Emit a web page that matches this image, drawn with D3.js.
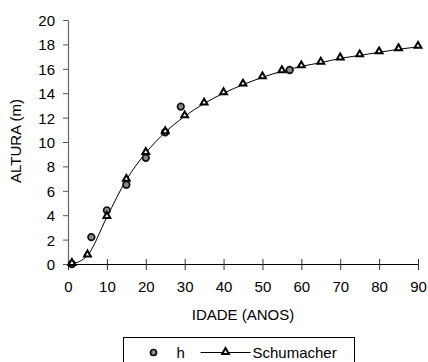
<!DOCTYPE html>
<html>
<head>
<meta charset="utf-8">
<script src="https://cdn.jsdelivr.net/npm/d3@7"></script>
<style>
  body { margin: 0; background: #fff; }
  svg text { font-family: "Liberation Sans", Arial, sans-serif; fill: #000; }
</style>
</head>
<body>
<div id="chart"></div>
<script>
// altura observada (h) e curva ajustada de Schumacher
const idadeObs = [1, 6, 10, 15, 20, 25, 29, 57]
const alturaObs = [0, 2.2, 4.4, 6.5, 8.7, 10.8, 12.9, 15.9]

const idadeSch = [1, 5, 10, 15, 20, 25, 30, 35, 40, 45, 50, 55, 60, 65, 70, 75, 80, 85, 90]
const alturaSch = [0, 0.7, 3.85, 6.9, 9.1, 10.8, 12.1, 13.15, 14.0, 14.7, 15.3, 15.8, 16.2, 16.5, 16.85, 17.1, 17.35, 17.6, 17.8]

const xTicks = [0, 10, 20, 30, 40, 50, 60, 70, 80, 90]
const yTicks = [0, 2, 4, 6, 8, 10, 12, 14, 16, 18, 20]

const width = 428
const height = 362
const margin = { top: 20, bottom: 98, right: 10, left: 68 }
const fontSize = 15

const svg = d3.select("div#chart").append("svg").attr("width", width).attr("height", height)

const x = d3.scaleLinear().domain([0, 90]).range([margin.left, 418])
const y = d3.scaleLinear().domain([0, 20]).range([264, margin.top])

// eixos
const xAxis = d3.axisBottom(x).tickValues(xTicks).tickSizeInner(5).tickSizeOuter(0).tickPadding(12)
const yAxis = d3.axisLeft(y).tickValues(yTicks).tickSizeInner(5).tickSizeOuter(0).tickPadding(8)

const xAxisGroup = svg.append("g").attr("transform", `translate(0, ${y(0)})`).call(xAxis)
const yAxisGroup = svg.append("g").attr("transform", `translate(${x(0)}, 0)`).call(yAxis)

// tracinhos do eixo x cruzam a linha
xAxisGroup.selectAll(".tick line").attr("y1", -5).attr("y2", 6).attr("stroke", "#333")
yAxisGroup.selectAll(".tick line").attr("x2", -5).attr("stroke", "#555")
xAxisGroup.select(".domain").attr("stroke", "#000").attr("stroke-width", 1.2)
yAxisGroup.select(".domain").attr("stroke", "#666").attr("stroke-width", 1.2)
svg.selectAll(".tick text").attr("font-size", fontSize).attr("font-family", "Liberation Sans, Arial, sans-serif").attr("fill", "#000")
yAxisGroup.selectAll(".tick text").attr("dy", "0.36em")

// títulos dos eixos
svg.append("text")
  .attr("x", (x(0) + x(90)) / 2).attr("y", 320)
  .attr("text-anchor", "middle").attr("font-size", fontSize)
  .text("IDADE (ANOS)")

svg.append("text")
  .attr("transform", `translate(21, ${y(10) - 1}) rotate(-90)`)
  .attr("text-anchor", "middle").attr("font-size", fontSize)
  .text("ALTURA (m)")

// curva de Schumacher
const schData = idadeSch.map((d, i) => [d, alturaSch[i]])
const line = d3.line().x(d => x(d[0])).y(d => y(d[1])).curve(d3.curveMonotoneX)

svg.append("path")
  .datum(schData)
  .attr("d", line)
  .attr("fill", "none")
  .attr("stroke", "#000")
  .attr("stroke-width", 1)

const tri = d3.symbol().type(d3.symbolTriangle).size(20)

function drawTriangles(sel) {
  sel.append("path")
    .attr("d", tri)
    .attr("fill", "#fff")
    .attr("stroke", "#000")
    .attr("stroke-width", 2)
}

// pontos observados
const obsData = idadeObs.map((d, i) => [d, alturaObs[i]])
svg.append("g").selectAll("circle")
  .data(obsData)
  .join("circle")
  .attr("cx", d => x(d[0]))
  .attr("cy", d => y(d[1]))
  .attr("r", 3.3)
  .attr("fill", "#8c8c8c")
  .attr("stroke", "#111")
  .attr("stroke-width", 1.7)

svg.append("g").selectAll("g")
  .data(schData)
  .join("g")
  .attr("transform", d => `translate(${x(d[0])}, ${y(d[1]) - 1})`)
  .call(drawTriangles)

// legenda
const legend = svg.append("g").attr("transform", "translate(123.5, 337.5)")
legend.append("rect")
  .attr("width", 231).attr("height", 30)
  .attr("fill", "#fff").attr("stroke", "#000").attr("stroke-width", 1)

legend.append("circle")
  .attr("cx", 30).attr("cy", 15).attr("r", 3)
  .attr("fill", "#8c8c8c").attr("stroke", "#111").attr("stroke-width", 1.7)
legend.append("text").attr("x", 53).attr("y", 20.5).attr("font-size", fontSize).text("h")

legend.append("line")
  .attr("x1", 77).attr("x2", 127).attr("y1", 15).attr("y2", 15)
  .attr("stroke", "#000").attr("stroke-width", 1)
legend.append("g").attr("transform", "translate(102, 14.5)").call(drawTriangles)
legend.append("text").attr("x", 129).attr("y", 20.5).attr("font-size", fontSize).text("Schumacher")
</script>
</body>
</html>
